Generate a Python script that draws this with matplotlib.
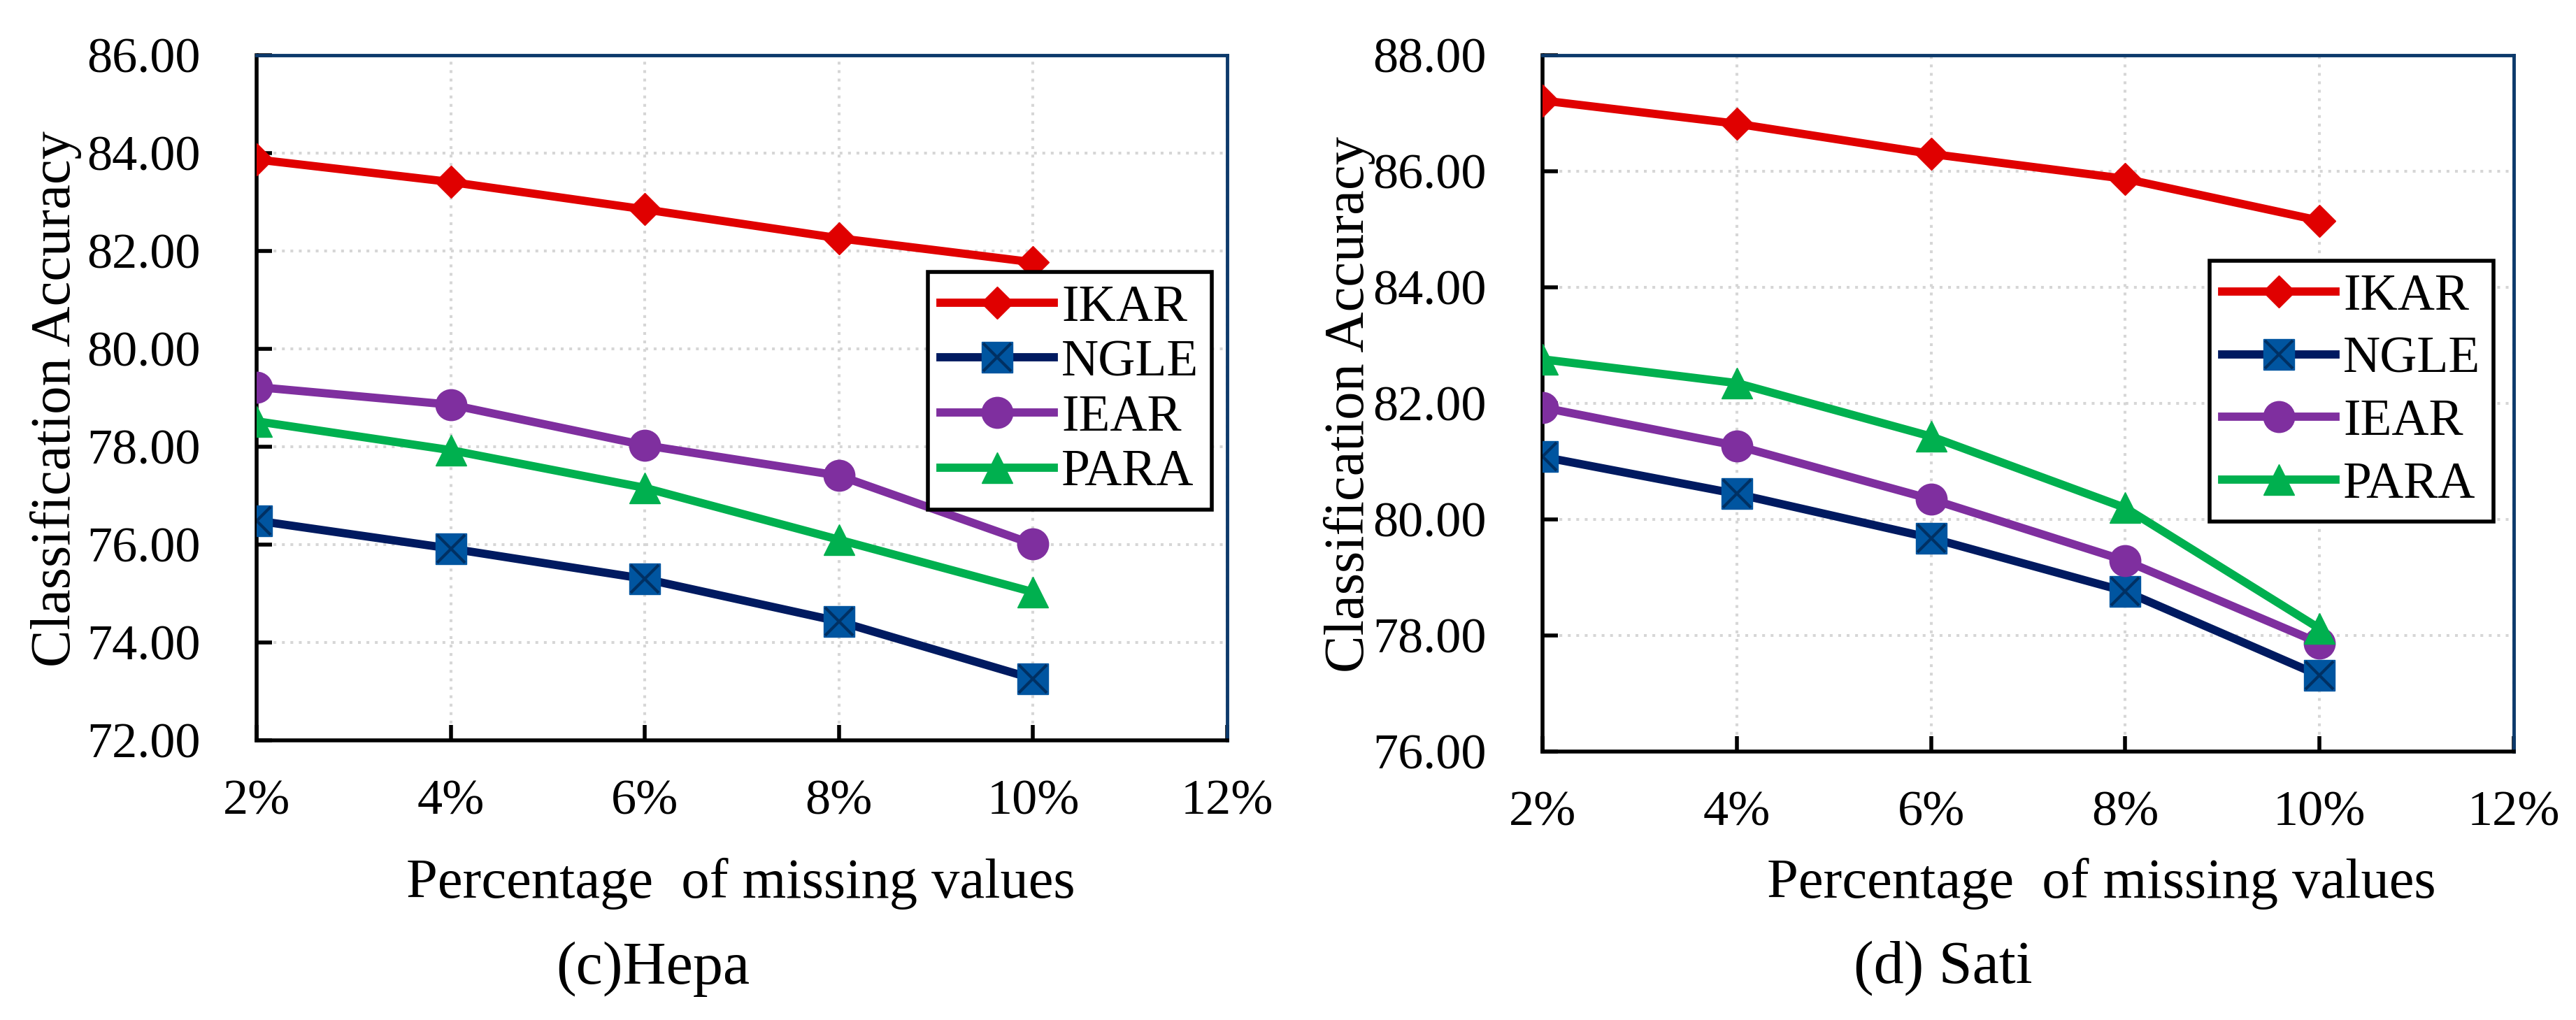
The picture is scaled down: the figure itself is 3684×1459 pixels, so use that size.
# two panels: classification accuracy vs. percentage of missing values
import matplotlib
matplotlib.use('Agg')
import matplotlib.pyplot as plt

plt.rcParams['font.family'] = ['Liberation Serif', 'DejaVu Serif']

# data
x_pct = [2, 4, 6, 8, 10]
x_ticks = [2, 4, 6, 8, 10, 12]
x_ticklabels = ['2%', '4%', '6%', '8%', '10%', '12%']
methods = ['IKAR', 'NGLE', 'IEAR', 'PARA']

hepa_ikar = [83.87, 83.41, 82.85, 82.26, 81.77]
hepa_ngle = [76.49, 75.92, 75.30, 74.43, 73.26]
hepa_iear = [79.22, 78.86, 78.03, 77.41, 76.01]
hepa_para = [78.52, 77.93, 77.16, 76.10, 75.03]

sati_ikar = [87.22, 86.82, 86.30, 85.87, 85.15]
sati_ngle = [81.08, 80.44, 79.68, 78.76, 77.31]
sati_iear = [81.93, 81.27, 80.35, 79.29, 77.87]
sati_para = [82.76, 82.35, 81.43, 80.20, 78.12]

hepa_yticks = [72, 74, 76, 78, 80, 82, 84, 86]
sati_yticks = [76, 78, 80, 82, 84, 86, 88]

# styles
red = '#e00000'
navy = '#001a60'
sq_face = '#0055a0'
x_col = '#003063'
purple = '#7f2f9f'
green = '#00b04f'
frame_blue = '#0d3a6b'
lw = 8.5

W, H = 3684, 1459
fig = plt.figure(figsize=(W / 100, H / 100), dpi=100)


def fx(px):
    return px / W


def fy(py):
    return 1 - py / H


def panel(rect, ikar, ngle, iear, para, yticks, leg_anchor, leg_space):
    ax = fig.add_axes(rect)
    l_ikar, = ax.plot(x_pct, ikar, color=red, lw=lw, marker='D', ms=23,
                      mfc=red, mec=red, zorder=5)
    l_ngle, = ax.plot(x_pct, ngle, color=navy, lw=lw, marker='s', ms=32,
                      mfc=sq_face, mec=sq_face, zorder=3)
    l_x, = ax.plot(x_pct, ngle, ls='none', marker='x', ms=29, mew=3,
                   color=x_col, zorder=4)
    l_iear, = ax.plot(x_pct, iear, color=purple, lw=lw, marker='o', ms=32,
                      mfc=purple, mec=purple, zorder=4)
    l_para, = ax.plot(x_pct, para, color=green, lw=lw, marker='^', ms=32,
                      mfc=green, mec=green, zorder=4)

    ax.set_xlim(2, 12)
    ax.set_ylim(yticks[0], yticks[-1])
    ax.set_xticks(x_ticks)
    ax.set_xticklabels(x_ticklabels)
    ax.set_yticks(yticks)
    ax.set_yticklabels(['%.2f' % v for v in yticks])
    ax.tick_params(direction='in', length=16, width=4, labelsize=52,
                   color='black')
    ax.tick_params(axis='y', pad=58)
    ax.tick_params(axis='x', pad=40)
    ax.grid(True, color='#d6d6d6', lw=2.9, ls=(0, (1, 2)))
    ax.set_axisbelow(True)
    for s in ['left', 'bottom']:
        ax.spines[s].set_color('black')
        ax.spines[s].set_linewidth(4)
    for s in ['top', 'right']:
        ax.spines[s].set_color(frame_blue)
        ax.spines[s].set_linewidth(3.5)

    handles = [l_ikar, (l_ngle, l_x), l_iear, l_para]
    leg = ax.legend(handles, methods, loc='upper right',
                    bbox_to_anchor=leg_anchor, fontsize=53, frameon=True,
                    fancybox=False, edgecolor='black', framealpha=1,
                    borderaxespad=0, borderpad=0.25, labelspacing=leg_space,
                    handlelength=2.2, handletextpad=0.15)
    leg.get_frame().set_linewidth(4)
    leg.set_zorder(6)
    return ax


panel([fx(367), fy(1059), fx(1755) - fx(367), fy(79) - fy(1059)],
      hepa_ikar, hepa_ngle, hepa_iear, hepa_para, hepa_yticks,
      (0.984, 0.684), 0.15)
panel([fx(2206), fy(1075), fx(3595) - fx(2206), fy(79) - fy(1075)],
      sati_ikar, sati_ngle, sati_iear, sati_para, sati_yticks,
      (0.979, 0.705), 0.30)

# axis titles and captions
fig.text(fx(80), fy(570), 'Classification Accuracy', rotation=90,
         ha='center', va='center', fontsize=58)
fig.text(fx(1930), fy(579), 'Classification Accuracy', rotation=90,
         ha='center', va='center', fontsize=58)
fig.text(fx(1059), fy(1284), 'Percentage  of missing values',
         ha='center', va='baseline', fontsize=58)
fig.text(fx(3005), fy(1284), 'Percentage  of missing values',
         ha='center', va='baseline', fontsize=58)
fig.text(fx(934), fy(1407), '(c)Hepa', ha='center', va='baseline',
         fontsize=62)
fig.text(fx(2779), fy(1405), '(d) Sati', ha='center', va='baseline',
         fontsize=62)

fig.savefig('out.png', dpi=100)
